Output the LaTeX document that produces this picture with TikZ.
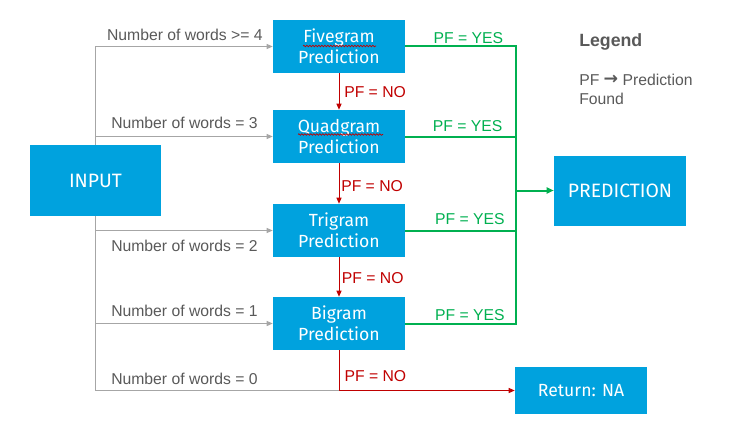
\documentclass[tikz,border=0pt]{standalone}
\usepackage{fontspec}
\setmainfont{Liberation Sans}
\newfontfamily\boxfont{Fira Sans}
\newfontfamily\symfont{DejaVu Sans}
\usetikzlibrary{arrows.meta,backgrounds,decorations.pathmorphing}
\definecolor{boxblue}{RGB}{0,162,222}
\definecolor{lgreen}{RGB}{0,176,80}
\definecolor{lred}{RGB}{192,0,0}
\definecolor{lgray}{RGB}{166,166,166}
\definecolor{tgray}{RGB}{89,89,89}
\newdimen\pxu \pxu=0.75pt
\tikzset{
  bluebox/.style={fill=boxblue, draw=none, text=white, align=center,
    font=\boxfont\fontsize{13.2}{15.75}\selectfont, inner sep=0pt,
    minimum width=132\pxu, minimum height=53\pxu},
  bigbox/.style={bluebox, font=\boxfont\fontsize{14.5}{17}\selectfont},
  graylbl/.style={text=tgray, font=\fontsize{11.8}{14}\selectfont, inner sep=0pt},
  greenlbl/.style={text=lgreen, font=\fontsize{11.8}{14}\selectfont, inner sep=0pt},
  redlbl/.style={text=lred, font=\fontsize{11.8}{14}\selectfont, inner sep=0pt},
  grayline/.style={draw=lgray, line width=0.75pt},
  grayarrow/.style={grayline, -{Triangle[length=4.5pt,width=3.75pt]}},
  redarrow/.style={draw=lred, line width=0.75pt, -{Triangle[length=4.5pt,width=3.75pt]}},
  redline/.style={draw=lred, line width=0.75pt},
  greenline/.style={draw=lgreen, line width=1.5pt},
  greenarrow/.style={greenline, -{Triangle[length=5.25pt,width=4.5pt]}},
  squiggle/.style={draw=lred, line width=0.5pt, decorate,
    decoration={snake, amplitude=0.6pt, segment length=2.25pt}}
}
\begin{document}
\begin{tikzpicture}[x=0.75pt, y=-0.75pt]
\useasboundingbox (0,0) rectangle (735,435);

% boxes
\node[bigbox, minimum width=131\pxu, minimum height=71\pxu] (in) at (95.5,180.5) {INPUT};
\node[bluebox] (five) at (339,46.5) {Fivegram\\Prediction};
\node[bluebox] (quad) at (339,136.5) {Quadgram\\Prediction};
\node[bluebox] (tri) at (339,230.5) {Trigram\\Prediction};
\node[bluebox] (bi) at (339,323.5) {Bigram\\Prediction};
\node[bigbox, minimum height=70\pxu] (pred) at (620,190.5) {PREDICTION};
\node[bluebox, minimum height=47\pxu] (na) at (581,390.5) {Return: NA};

% spell-check squiggles
\draw[squiggle] (303,46) -- (376,46);
\draw[squiggle] (298,134.5) -- (383,134.5);

\coordinate (j) at (bi.south |- na.west);
\coordinate (gm) at (515.5,190.5);

\begin{pgfonlayer}{background}
\draw[grayarrow] (in.north) |- (five.west);
\draw[grayarrow] (in.north) |- (quad.west);
\draw[grayarrow] (in.south) |- (tri.west);
\draw[grayarrow] (in.south) |- (bi.west);
\draw[grayline] (in.south) |- (j);
\end{pgfonlayer}

% red connectors
\draw[redarrow] (five.south) -- (quad.north);
\draw[redarrow] (quad.south) -- (tri.north);
\draw[redarrow] (tri.south) -- (bi.north);
\draw[redline] (bi.south) -- (j);
\draw[redarrow] (j) -- (na.west);

% green connectors
\draw[greenline] (five.east) -| (gm);
\draw[greenline] (quad.east) -| (gm);
\draw[greenline] (tri.east) -| (gm);
\draw[greenline] (bi.east) -| (gm);
\draw[greenarrow] (gm) -- (pred.west);

% gray labels
\node[graylbl, anchor=base east] (l4) at (263,41) {Number of words >= 4};
\node[graylbl, anchor=base east] (l3) at (258,128) {Number of words = 3};
\node[graylbl, anchor=base east] (l2) at (258,251) {Number of words = 2};
\node[graylbl, anchor=base east] (l1) at (258,316) {Number of words = 1};
\node[graylbl, anchor=base east] (l0) at (258,384) {Number of words = 0};

% green labels
\node[greenlbl, anchor=base east] (y1) at (503.5,43.3) {PF = YES};
\node[greenlbl, anchor=base east] (y2) at (502.7,131.7) {PF = YES};
\node[greenlbl, anchor=base east] (y3) at (505,224.3) {PF = YES};
\node[greenlbl, anchor=base east] (y4) at (505,320) {PF = YES};

% red labels
\node[redlbl, anchor=base west] (n1) at (344,97.3) {PF = NO};
\node[redlbl, anchor=base west] (n2) at (341,191) {PF = NO};
\node[redlbl, anchor=base west] (n3) at (341.7,283.3) {PF = NO};
\node[redlbl, anchor=base west] (n4) at (344.3,381.7) {PF = NO};

% legend
\node[text=tgray, font=\bfseries\fontsize{13.3}{16}\selectfont, inner sep=0pt, anchor=base west] (leg) at (579,46.7) {Legend};
\node[graylbl, anchor=base west] (legtxt) at (579,85) {PF {\symfont\bfseries\fontsize{13}{14}\selectfont\raisebox{0.5pt}{→}} Prediction};
\node[graylbl, anchor=base west] (legtxt2) at (579,104) {Found};
\end{tikzpicture}
\end{document}
